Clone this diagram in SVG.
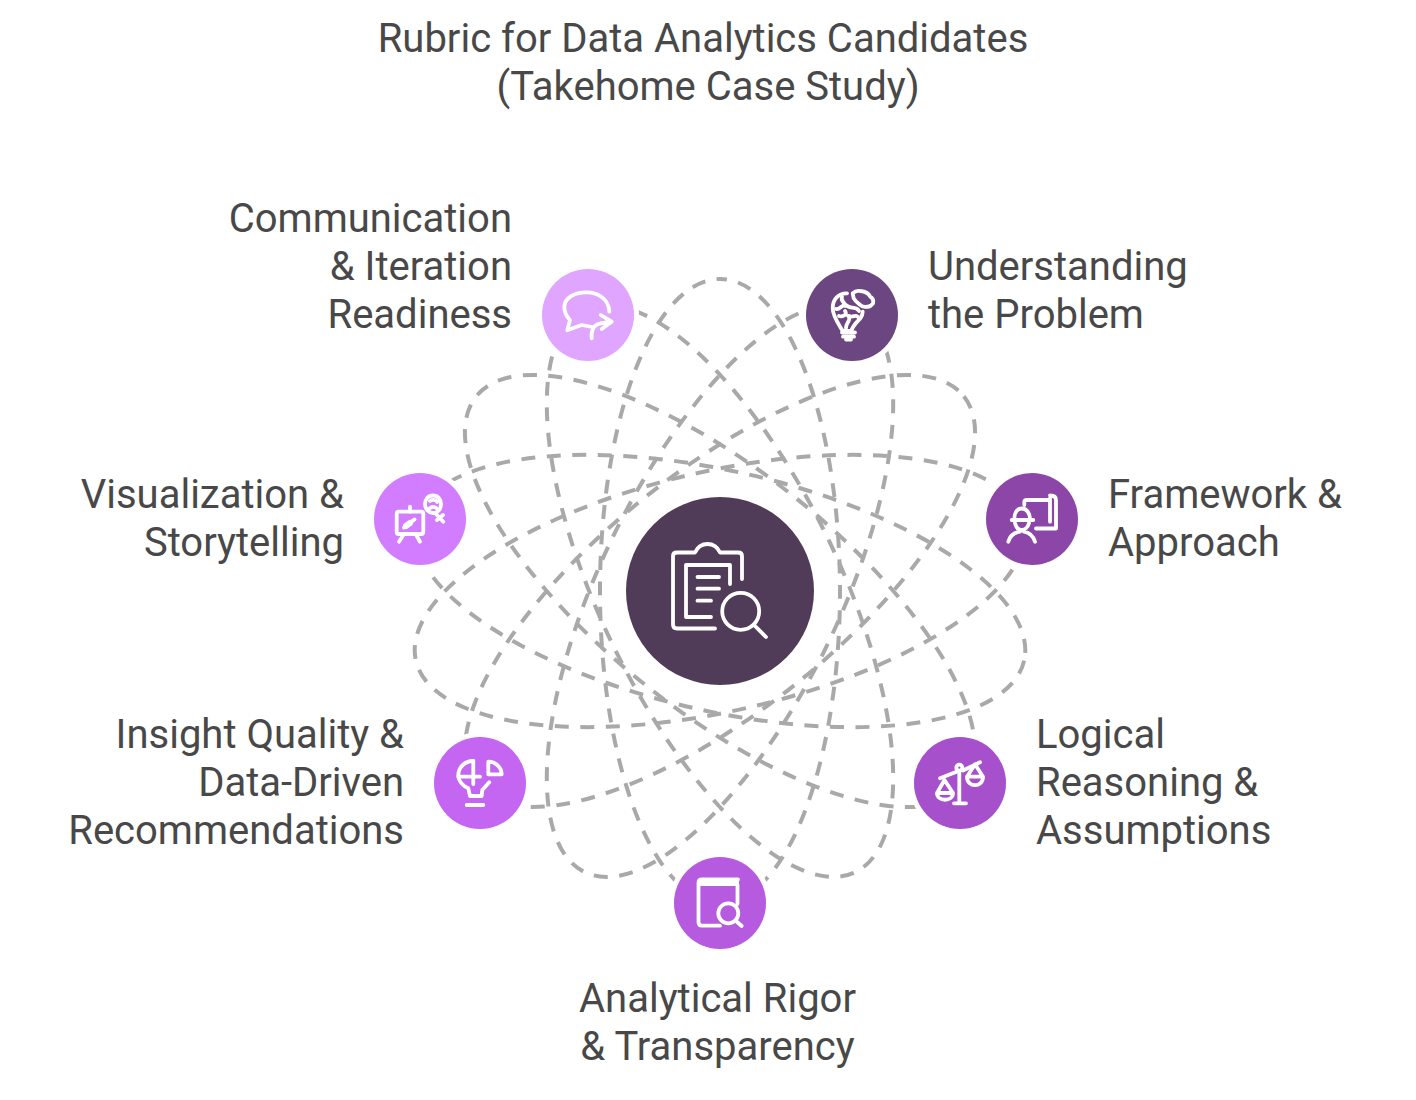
<svg xmlns="http://www.w3.org/2000/svg" width="1416" height="1100" viewBox="0 0 1416 1100">
<style>
text{font-family:Roboto,"Liberation Sans",sans-serif;font-size:40px;fill:#484848}
.e{text-anchor:end}.m{text-anchor:middle}
.orb{fill:none;stroke:#a9a9a9;stroke-width:4;stroke-dasharray:14 11.5;stroke-linecap:butt}
.halo{fill:#fff}
.i{fill:none;stroke:#fff;stroke-width:3.8;stroke-linecap:round;stroke-linejoin:round}
.f{fill:#fff}
</style>
<rect width="1416" height="1100" fill="#fff"/>
<g id="title"><text x="703" y="52" class="m">Rubric for Data Analytics Candidates</text><text x="708" y="100" class="m">(Takehome Case Study)</text></g>
<g id="connectors">
<ellipse class="orb" cx="720" cy="591" rx="312" ry="120" transform="rotate(-90 720 591)" stroke-dashoffset="7"/>
<ellipse class="orb" cx="720" cy="591" rx="312" ry="120" transform="rotate(-64.3 720 591)"/>
<ellipse class="orb" cx="720" cy="591" rx="312" ry="120" transform="rotate(-115.7 720 591)"/>
<ellipse class="orb" cx="720" cy="591" rx="312" ry="120" transform="rotate(-12.9 720 591)"/>
<ellipse class="orb" cx="720" cy="591" rx="312" ry="120" transform="rotate(12.9 720 591)"/>
<ellipse class="orb" cx="720" cy="591" rx="312" ry="120" transform="rotate(38.6 720 591)"/>
<ellipse class="orb" cx="720" cy="591" rx="312" ry="120" transform="rotate(-38.6 720 591)"/>
</g>
<g id="center">
<circle cx="720" cy="591" r="94" fill="#503c58"/>
<g class="i"><path d="M715 628.5H677Q673 628.5 673 624.5V556Q673 552.5 677 552.5H695C698 546 703 544 707.5 544C712 544 717 546 720 552.5H738Q742 552.5 742 556V579"/><path d="M711 617H686V565H730V584"/><path d="M697.5 577H719M697.5 588.7H719M697.5 600.7H711"/><circle cx="740.7" cy="611.3" r="18.5"/><path d="M754 625L766 637"/></g>
</g>
<g id="node-understanding">
<circle class="halo" cx="852" cy="315" r="51"/><circle cx="852" cy="315" r="46" fill="#6c4680"/>
<g class="i"><path d="M847 293.3C838 293 832.7 300 832.7 308.3C832.7 316 838 323 842.7 331H851.3C853 325 859 320 860.3 318.3C862 316 862.7 314 862.7 311.7"/><path d="M852.7 293.3C855 291 858 290.5 860.3 291C866 291.5 869 294 870.3 296.7C873 298 873.5 301 873 303.3C871 306 869 307 867 306.7C864 307.5 861.5 306 860.3 305C858 303 855 301 853.7 298.3Z"/><path d="M842 297C840 301 846 303 845 306M846 305C842 304 840 310 836 309M846 305C850 310 856 305 859 311M845 311C848 315 842 317 839 316M848 316C852 320 846 322 846 328M849 316C853 318 856 314 858 317M842 332.5H855M843 336.7H854M846 339.5H851"/></g>
</g>
<g id="node-framework">
<circle class="halo" cx="1032" cy="519" r="51"/><circle cx="1032" cy="519" r="46" fill="#8c46a8"/>
<g class="i"><path d="M1024.3 505V502Q1024.3 500 1027 500H1050M1050 498.3V521.7M1050 495.5Q1056 495.5 1056 500V528.5H1036"/><path d="M1011.7 520H1033.3M1014.3 519C1014.3 513 1017 508.5 1021.7 508.5C1026.5 508.5 1030 513 1030 519M1015 523C1016 527 1018.5 530 1021.7 530C1025 530 1028 527 1029 523M1008.3 541.7C1010 536 1014 532.5 1020 531.7M1035 541.7C1033 536 1029.5 532.5 1024 531.7"/></g>
</g>
<g id="node-logical">
<circle class="halo" cx="960" cy="783" r="51"/><circle cx="960" cy="783" r="46" fill="#a650cc"/>
<g class="i"><path d="M940 778.3L956 772M963 770.5L980 762.3"/><circle cx="959.3" cy="767.7" r="3"/><path d="M959.3 771V803.3M954 803.3H966"/><path d="M944.5 780L937 793H953ZM937 793C937 802 953 802 953 793"/><path d="M975 764.3L967 776.7H983ZM967 776.7C967 788 983 788 983 776.7"/></g>
</g>
<g id="node-rigor">
<circle class="halo" cx="720" cy="903" r="51"/><circle cx="720" cy="903" r="46" fill="#b65ae0"/>
<rect class="f" x="700" y="878" width="39" height="8"/>
<g class="i"><path d="M720 925.7H702Q698.5 925.7 698.5 922V883Q698.5 879.5 702 879.5H738M737.5 885V904"/><circle cx="728.3" cy="913.3" r="10"/><path d="M736 921L741.7 926"/></g>
</g>
<g id="node-insight">
<circle class="halo" cx="480" cy="783" r="51"/><circle cx="480" cy="783" r="46" fill="#c466f2"/>
<g class="i"><path d="M473.3 761C464 761 458.3 768 458.3 775.5C458.3 781 463 786 468.3 788.3L470 796H481.7L482.3 790L489.3 782.3"/><path d="M473.3 761V784M458.3 776.7H480M466.7 805H483.3"/><path d="M488.3 761.7V774.3H501.7C501.5 767 495 761.5 488.3 761.7Z"/></g>
</g>
<g id="node-visualization">
<circle class="halo" cx="420" cy="519" r="51"/><circle cx="420" cy="519" r="46" fill="#d27cff"/>
<g class="i"><rect x="396.7" y="511.7" width="26.6" height="22.3" rx="2"/><path d="M410 506.7V511.7M402.7 536L399 541.7M416.7 536L420 541.7M414.5 519.5L404 527.5"/><path stroke-width="6" d="M410 523L406 526"/><path d="M433 495.5C428 495.5 425 499.5 425 504C425 509 429 513 433 513C438 513 441 509 441 504C441 499.5 438 495.5 433 495.5ZM430 501C433 499 436 500 437 502M430 508C433 506 436 507 437 509M435 513L443.3 521.7M437 520L443 515"/></g>
</g>
<g id="node-communication">
<circle class="halo" cx="588" cy="315" r="51"/><circle cx="588" cy="315" r="46" fill="#e0a6ff"/>
<g class="i"><path d="M609.3 311.7C609 300 599 292.3 586.7 292.3C574 292.3 564.3 298 564.3 307C564.3 313 567 317 570 320L567.3 330.3L581.7 325L592.3 327"/><path d="M591.7 338.3C591 331 593 325 600 323.5L611 321.7M600.7 315L611.7 321.7L601.7 329"/></g>
</g>
<g id="labels">
<text x="512" y="232" class="e">Communication</text><text x="512" y="280" class="e">&amp; Iteration</text><text x="512" y="328" class="e">Readiness</text>
<text x="928" y="280">Understanding</text><text x="928" y="328">the Problem</text>
<text x="1108" y="508">Framework &amp;</text><text x="1108" y="556">Approach</text>
<text x="344" y="508" class="e">Visualization &amp;</text><text x="344" y="556" class="e">Storytelling</text>
<text x="404" y="748" class="e">Insight Quality &amp;</text><text x="404" y="796" class="e">Data-Driven</text><text x="404" y="844" class="e">Recommendations</text>
<text x="1036" y="748">Logical</text><text x="1036" y="796">Reasoning &amp;</text><text x="1036" y="844">Assumptions</text>
<text x="717.5" y="1012" class="m">Analytical Rigor</text><text x="717.5" y="1060" class="m">&amp; Transparency</text>
</g>
</svg>
